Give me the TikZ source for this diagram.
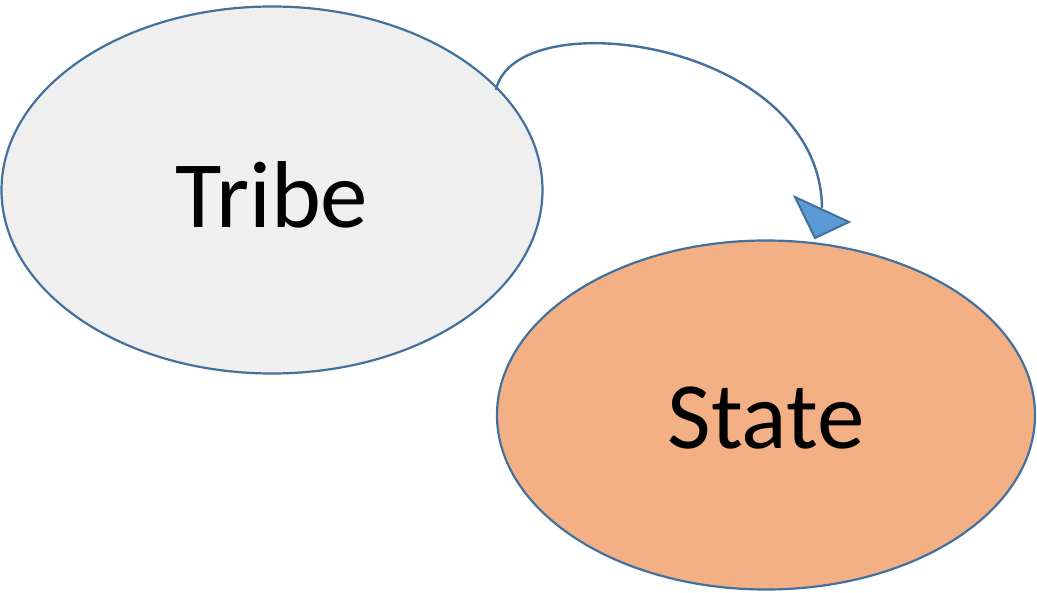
\documentclass[tikz,border=0pt]{standalone}
\usepackage{fontspec}
\setmainfont{Carlito}
\usetikzlibrary{shapes.geometric}
\definecolor{edgeblue}{HTML}{41719C}
\definecolor{tribefill}{HTML}{EFEFEF}
\definecolor{statefill}{HTML}{F3B084}
\definecolor{tipfill}{HTML}{5B9BD5}
\tikzset{
  blob/.style={ellipse, draw=edgeblue, line width=2.2pt, inner sep=0pt},
  label/.style={font=\fontsize{95}{95}\selectfont},
  link/.style={draw=edgeblue, line width=2.4pt},
  tip/.style={draw=edgeblue, fill=tipfill, line width=2pt, line join=miter}
}
\begin{document}
\begin{tikzpicture}[x=1pt, y=-1pt]
  \useasboundingbox (0,0) rectangle (1037,593);
  % the two stages
  \node[blob, fill=tribefill, minimum width=541pt, minimum height=367pt] (tribe) at (272,190) {};
  \node[label] (tribetxt) at (272,195) {Tribe};
  \node[blob, fill=statefill, minimum width=538pt, minimum height=349pt] (state) at (766,415) {};
  \node[label] (statetxt) at (766,418) {State};
  % curved connector with its triangular head
  \coordinate (start) at (496,90);
  \coordinate (stop) at (822,208);
  \coordinate (ta) at (795,197);
  \coordinate (tb) at (849,222);
  \coordinate (tc) at (815,238);
  \draw[link] (start) .. controls (515,0) and (820,40) .. (stop);
  \draw[tip] (ta) -- (tb) -- (tc) -- cycle;
\end{tikzpicture}
\end{document}
